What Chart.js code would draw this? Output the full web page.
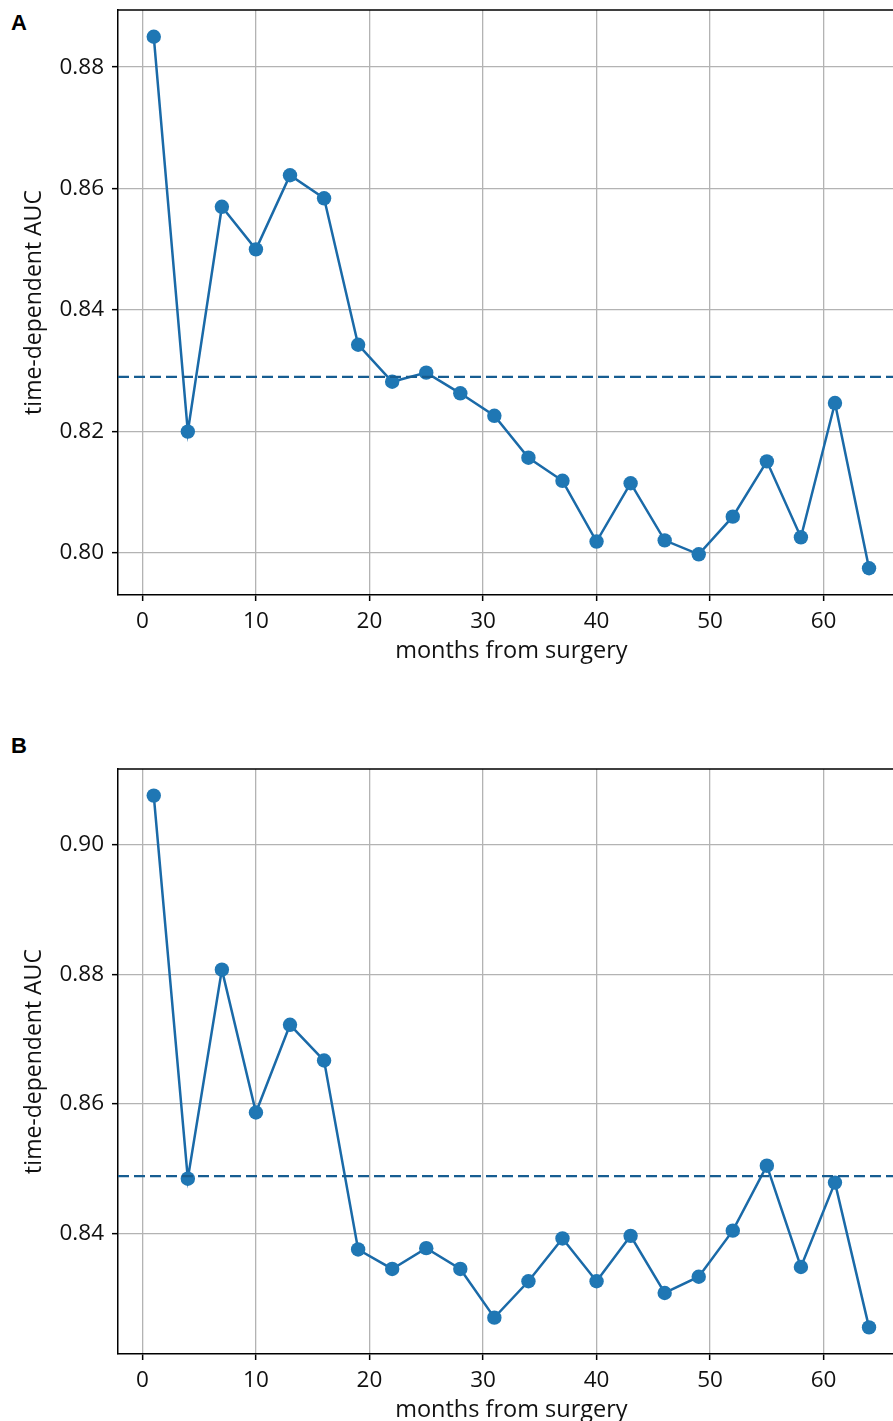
<!DOCTYPE html>
<html>
<head>
<meta charset="utf-8">
<script src="https://cdn.jsdelivr.net/npm/chart.js@4.4.0/dist/chart.umd.min.js"></script>
<style>
  html, body { margin: 0; padding: 0; background: #fff; }
  body { width: 893px; height: 1421px; overflow: hidden; position: relative; }
  canvas { position: absolute; left: 0; }
  .panel { position: absolute; left: 11px; font: bold 22px "Liberation Sans", Arial, sans-serif; color: #000; }
</style>
</head>
<body>
<div class="panel" style="top:10px">A</div>
<canvas id="graficoA" width="912" height="680" style="top:0px"></canvas>
<div class="panel" style="top:733px">B</div>
<canvas id="graficoB" width="912" height="680" style="top:759px"></canvas>
<script>
// datos
const months = [1, 4, 7, 10, 13, 16, 19, 22, 25, 28, 31, 34, 37, 40, 43, 46, 49, 52, 55, 58, 61, 64]
const aucA = [0.885, 0.820, 0.857, 0.850, 0.8622, 0.8584, 0.8343, 0.8282, 0.8297, 0.8263, 0.8226,
  0.8157, 0.8119, 0.8019, 0.8115, 0.8021, 0.7998, 0.8060, 0.8151, 0.8026, 0.8247, 0.7975]
const aucB = [0.9075, 0.8485, 0.8807, 0.8587, 0.8722, 0.8667, 0.8376, 0.8346, 0.8378, 0.8346, 0.8271,
  0.8327, 0.8393, 0.8327, 0.8397, 0.8309, 0.8334, 0.8405, 0.8505, 0.8349, 0.8479, 0.8256]
const meanA = 0.8290
const meanB = 0.8489

const xMin = -2.15
const xMax = 67.15
const fuente = '"Open Sans", "DejaVu Sans", sans-serif'

// marco superior y derecho del area de dibujo (como matplotlib)
const marco = {
  id: 'marco',
  afterDraw(chart) {
    const { ctx, chartArea: { left, right, top, bottom } } = chart
    ctx.save()
    ctx.strokeStyle = '#000'
    ctx.lineWidth = 1.5
    ctx.beginPath()
    ctx.moveTo(left, top)
    ctx.lineTo(right, top)
    ctx.lineTo(right, bottom)
    ctx.stroke()
    ctx.restore()
  }
}

const crearGrafico = (canvasid, valores, media, yMin, yMax) => {
  const data = {
    datasets: [
      {
        label: 'media',
        data: [{ x: xMin, y: media }, { x: xMax, y: media }],
        borderColor: '#175d91',
        borderWidth: 2.4,
        borderDash: [11, 5],
        pointRadius: 0,
        fill: false
      },
      {
        label: 'AUC',
        data: months.map((m, i) => ({ x: m, y: valores[i] })),
        borderColor: '#1a6aa8',
        borderWidth: 2.5,
        backgroundColor: '#1f77b4',
        pointBackgroundColor: '#1f77b4',
        pointBorderColor: '#1f77b4',
        pointRadius: 7.2,
        pointBorderWidth: 0,
        tension: 0,
        fill: false
      }
    ]
  }

  const config = {
    type: 'line',
    data: data,
    plugins: [marco],
    options: {
      responsive: false,
      animation: false,
      devicePixelRatio: 1,
      clip: false,
      layout: { padding: { top: 10, left: 0, right: 1, bottom: 0 } },
      plugins: { legend: { display: false }, tooltip: { enabled: false } },
      scales: {
        x: {
          type: 'linear',
          min: xMin,
          max: xMax,
          afterFit: (s) => { s.height = 85; s.paddingLeft = 0; s.paddingRight = 0 },
          grid: { color: '#b3b3b3', lineWidth: 1.3, tickColor: '#000', tickLength: 6, tickWidth: 1.5 },
          border: { color: '#000', width: 1.5 },
          ticks: {
            stepSize: 10,
            includeBounds: false,
            padding: 7,
            color: '#111',
            font: { family: fuente, size: 22.5 },
            callback: (v) => v.toFixed(0)
          },
          title: {
            display: true,
            text: 'months from surgery',
            color: '#111',
            font: { family: fuente, size: 23.5 },
            padding: { top: 0, bottom: 15 }
          }
        },
        y: {
          min: yMin,
          max: yMax,
          afterFit: (s) => { s.width = 118; s.paddingTop = 0; s.paddingBottom = 0 },
          grid: { color: '#b3b3b3', lineWidth: 1.3, tickColor: '#000', tickLength: 6, tickWidth: 1.5 },
          border: { color: '#000', width: 1.5 },
          ticks: {
            stepSize: 0.02,
            includeBounds: false,
            padding: 8,
            color: '#111',
            font: { family: fuente, size: 22.5 },
            callback: (v) => v.toFixed(2)
          },
          title: {
            display: true,
            text: 'time-dependent AUC',
            color: '#111',
            font: { family: fuente, size: 23 },
            padding: { top: 21, bottom: 0 }
          }
        }
      }
    }
  }
  return new Chart(document.getElementById(canvasid), config)
}

crearGrafico('graficoA', aucA, meanA, 0.7931, 0.8894)
crearGrafico('graficoB', aucB, meanB, 0.8215, 0.9116)
</script>
</body>
</html>
